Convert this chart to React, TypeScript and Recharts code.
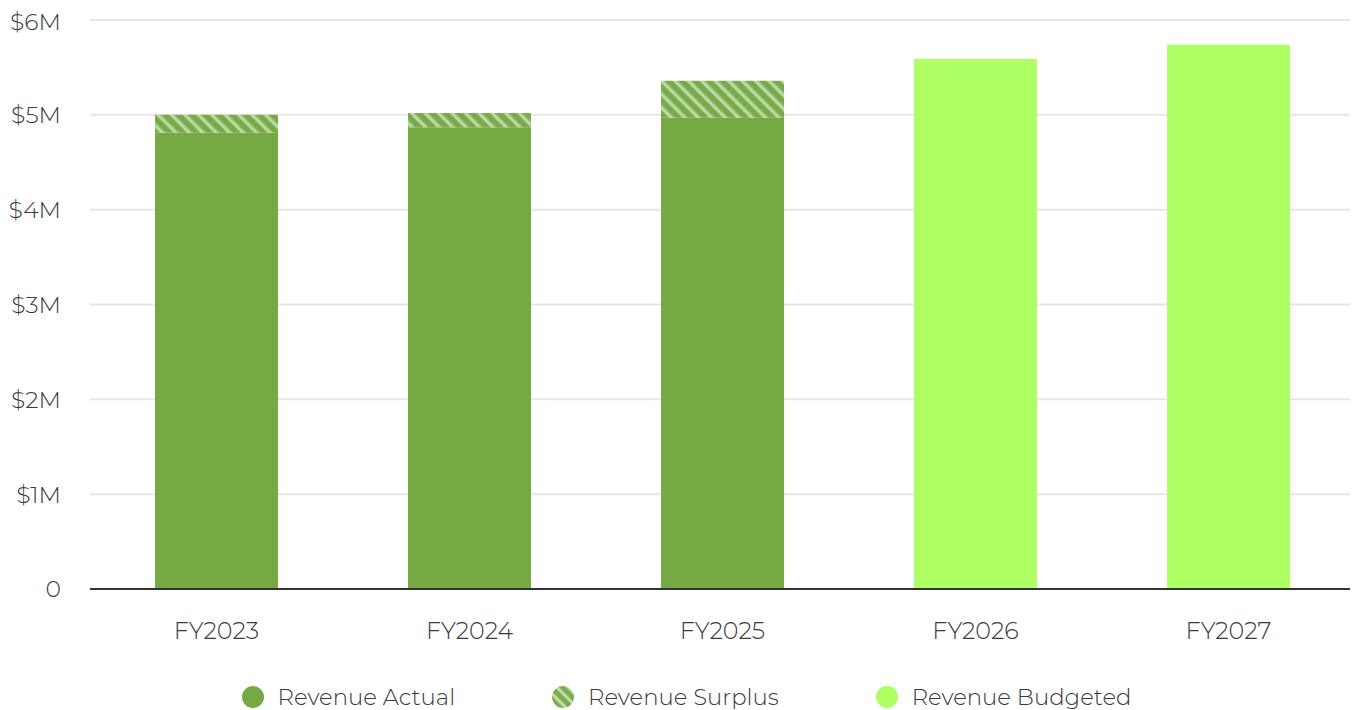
import { Bar, BarChart, CartesianGrid, Legend, XAxis, YAxis } from "recharts"

const years = ["FY2023", "FY2024", "FY2025", "FY2026", "FY2027"]
const revenueBudgeted = [0, 0, 10000, 5590000, 5740000]
const revenueActual = [4810000, 4870000, 4960000, 0, 0]
const revenueSurplus = [190000, 150000, 390000, 0, 0]
const yTicks = [0, 1000000, 2000000, 3000000, 4000000, 5000000, 6000000]

const data = years.map((year, i) => ({
  year,
  budgeted: revenueBudgeted[i],
  actual: revenueActual[i],
  surplus: revenueSurplus[i],
}))

const FONT = "Montserrat, Inter, 'Noto Sans', sans-serif"
const TEXT = "#3a3a3a"

const legendItems = [
  { label: "Revenue Actual", fill: "#76a844" },
  { label: "Revenue Surplus", fill: "url(#surplusDot)" },
  { label: "Revenue Budgeted", fill: "#aeff63" },
]

const formatMoney = (v: number) => (v === 0 ? "0" : `$${v / 1000000}M`)

function LegendContent() {
  return (
    <div
      style={{
        display: "flex",
        justifyContent: "center",
        alignItems: "center",
        gap: 97,
        height: 42,
        fontFamily: FONT,
        fontWeight: 300,
        fontSize: 22.8,
        lineHeight: "24px",
        color: TEXT,
      }}
    >
      {legendItems.map((item) => (
        <div key={item.label} style={{ display: "flex", alignItems: "center", gap: 14 }}>
          <svg width={22} height={22}>
            <defs>
              <pattern id="surplusDot" patternUnits="userSpaceOnUse" width="8" height="8" patternTransform="rotate(-45)">
                <rect width="8" height="8" fill="#7fae52" />
                <rect x="1" width="3" height="8" fill="#c1dcaa" />
              </pattern>
            </defs>
            <circle cx={11} cy={11} r={11} fill={item.fill} />
          </svg>
          <span>{item.label}</span>
        </div>
      ))}
    </div>
  )
}

export default function App() {
  return (
    <BarChart
      width={1350}
      height={710}
      data={data}
      margin={{ top: 12, right: 3, bottom: 0, left: 10 }}
      barCategoryGap="25.7%"
    >
      <defs>
        <pattern id="surplus" patternUnits="userSpaceOnUse" width="9.5" height="9.5" patternTransform="rotate(-45)">
          <rect width="9.5" height="9.5" fill="#79aa48" />
          <rect x="0" width="1" height="9.5" fill="#9cc37a" />
          <rect x="1" width="2.5" height="9.5" fill="#c3ddae" />
          <rect x="3.5" width="1" height="9.5" fill="#9cc37a" />
        </pattern>
      </defs>
      <CartesianGrid vertical={false} stroke="#e6e6e6" strokeWidth={2} />
      <XAxis
        dataKey="year"
        height={87}
        tickLine={false}
        tickSize={0}
        tickMargin={33}
        axisLine={{ stroke: "#333333", strokeWidth: 2 }}
        tick={{ fill: TEXT, fontSize: 23.8, fontFamily: FONT, fontWeight: 300 }}
      />
      <YAxis
        width={72}
        domain={[0, 6000000]}
        ticks={yTicks}
        tickFormatter={formatMoney}
        axisLine={false}
        tickLine={false}
        tickSize={0}
        tickMargin={29}
        tick={{ fill: TEXT, fontSize: 23.5, fontFamily: FONT, fontWeight: 300 }}
      />
      <Legend verticalAlign="bottom" content={<LegendContent />} wrapperStyle={{ height: 42 }} />
      <Bar dataKey="budgeted" name="Revenue Budgeted" stackId="rev" fill="#aeff63" isAnimationActive={false} />
      <Bar dataKey="actual" name="Revenue Actual" stackId="rev" fill="#76a844" isAnimationActive={false} />
      <Bar dataKey="surplus" name="Revenue Surplus" stackId="rev" fill="url(#surplus)" isAnimationActive={false} />
    </BarChart>
  )
}
